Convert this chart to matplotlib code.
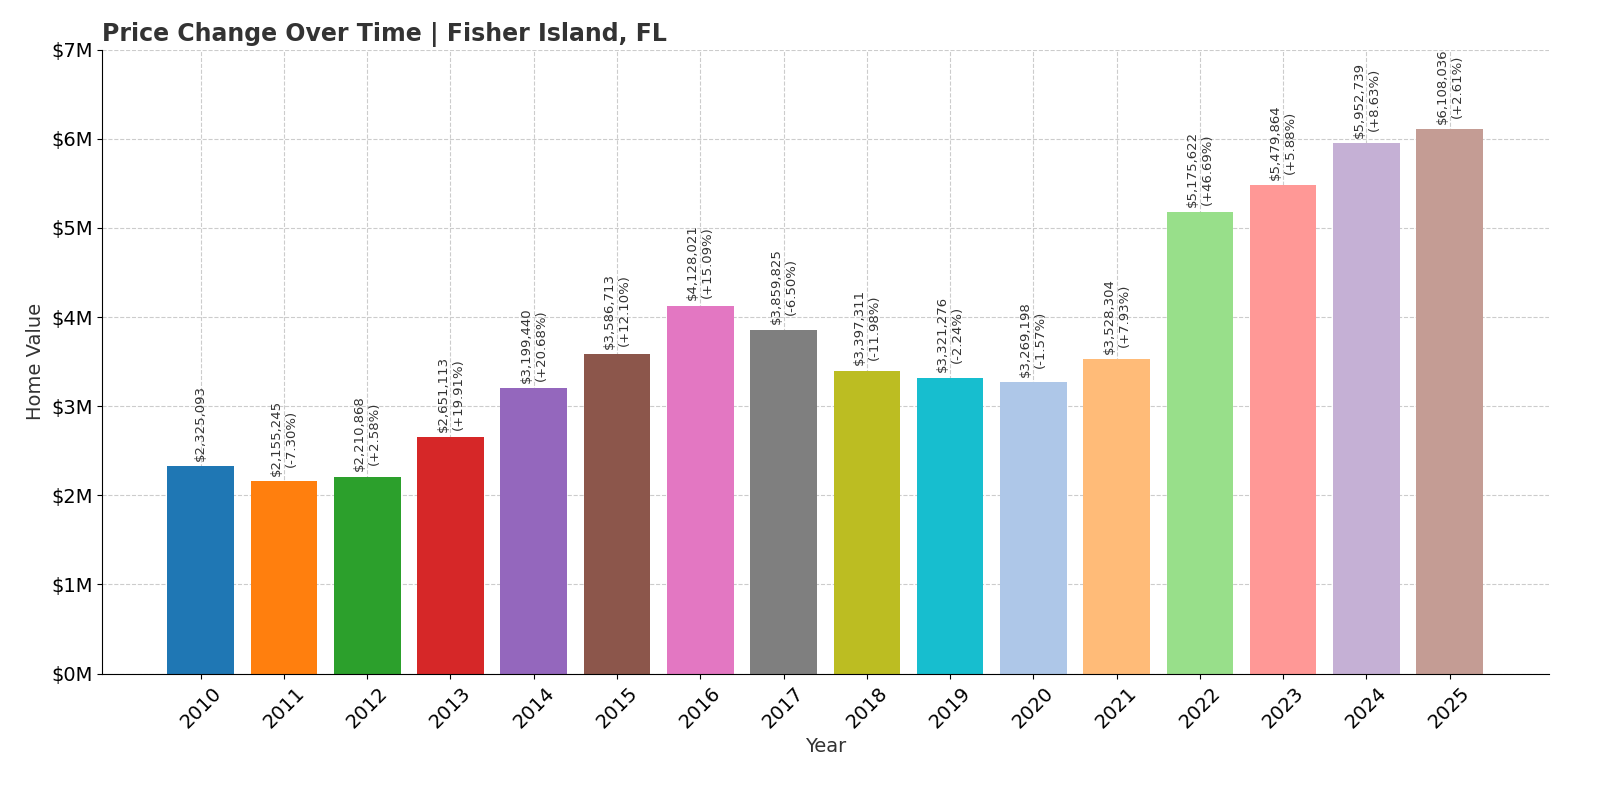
import matplotlib

matplotlib.use("Agg")
import matplotlib.pyplot as plt
from matplotlib.ticker import FuncFormatter

years = list(range(2010, 2026))
values = [2325093, 2155245, 2210868, 2651113, 3199440, 3586713, 4128021, 3859825,
          3397311, 3321276, 3269198, 3528304, 5175622, 5479864, 5952739, 6108036]
changes = [None, "-7.30%", "+2.58%", "+19.91%", "+20.68%", "+12.10%", "+15.09%", "-6.50%",
           "-11.98%", "-2.24%", "-1.57%", "+7.93%", "+46.69%", "+5.88%", "+8.63%", "+2.61%"]
colors = ["#1f77b4", "#ff7f0e", "#2ca02c", "#d62728", "#9467bd", "#8c564b", "#e377c2", "#7f7f7f",
          "#bcbd22", "#17becf", "#aec7e8", "#ffbb78", "#98df8a", "#ff9896", "#c5b0d5", "#c49c94"]

fig = plt.figure(figsize=(16, 8), dpi=100)
ax = fig.add_axes([0.064, 0.158, 0.904, 0.78])
x = list(range(len(years)))
ax.bar(x, values, width=0.8, color=colors, zorder=2)
for xi, v, c in zip(x, values, changes):
    label = f"${v:,}" if c is None else f"${v:,}\n({c})"
    ax.text(xi, v + 60000, label, rotation=90, ha="center", va="bottom",
            fontsize=9.5, color="#333333")

ax.set_xticks(x)
ax.set_xticklabels([str(y) for y in years], rotation=45, fontsize=14)
ax.set_xlim(-1.18, 16.19)
ax.set_ylim(0, 7e6)
ax.yaxis.set_major_formatter(FuncFormatter(lambda v, _: f"${v / 1e6:.0f}M"))
ax.tick_params(axis="y", labelsize=14)
ax.grid(True, linestyle="--", color="#cccccc", linewidth=0.8, zorder=0)
ax.set_axisbelow(True)
for side in ("top", "right"):
    ax.spines[side].set_visible(False)
ax.set_xlabel("Year", fontsize=14, color="#333333")
ax.set_ylabel("Home Value", fontsize=14, color="#333333")
ax.set_title("Price Change Over Time | Fisher Island, FL", loc="left", fontsize=17,
             fontweight="bold", color="#333333", pad=6)
fig.savefig("out.png")
